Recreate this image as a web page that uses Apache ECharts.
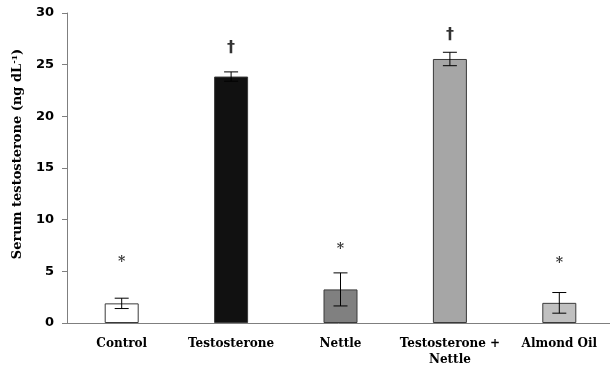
<!DOCTYPE html>
<html><head><meta charset="utf-8">
<script src="https://cdn.jsdelivr.net/npm/echarts@6/dist/echarts.min.js"></script>
<style>html,body{margin:0;padding:0;background:#fff}#c{width:610px;height:366px}</style>
</head><body><div id="c"></div>
<script>
const categories = ['Control', 'Testosterone', 'Nettle', 'Testosterone +\nNettle', 'Almond Oil'];
const means = [1.9, 23.85, 3.25, 25.55, 1.95];
const errors = [0.5, 0.45, 1.6, 0.65, 1.0];
const markers = ['*', '†', '*', '†', '*'];
const markerY = [5.9, 26.6, 7.1, 27.9, 5.8];
const yTicks = [0, 5, 10, 15, 20, 25, 30];
const barColors = ['#ffffff', '#111111', '#808080', '#a6a6a6', '#c0c0c0'];

const chart = echarts.init(document.getElementById('c'));
chart.setOption({
  animation: false,
  grid: {left: 67, right: -4, top: 13, bottom: 43, outerBoundsMode: 'none', containLabel: false},
  xAxis: {
    type: 'category', data: categories,
    axisLine: {lineStyle: {color: '#7f7f7f', width: 1}},
    axisTick: {show: false},
    axisLabel: {interval: 0, color: '#000', fontFamily: 'DejaVu Serif', fontWeight: 'bold', fontSize: 12, margin: 13, lineHeight: 16}
  },
  yAxis: {
    type: 'value', min: yTicks[0], max: yTicks[yTicks.length - 1], interval: 5,
    splitLine: {show: false},
    axisLine: {show: true, lineStyle: {color: '#7f7f7f', width: 1}},
    axisTick: {show: true, length: 5, lineStyle: {color: '#7f7f7f'}},
    axisLabel: {color: '#000', fontFamily: 'DejaVu Sans', fontWeight: 'bold', fontSize: 13, margin: 13},
    name: '{a|Serum testosterone (ng dL}{s|-1}{a|)}',
    nameLocation: 'middle', nameGap: 42,
    nameTextStyle: {
      padding: [0, 0, 0, 28],
      rich: {
        a: {fontFamily: 'DejaVu Serif', fontWeight: 'bold', fontSize: 13, color: '#000'},
        s: {fontFamily: 'DejaVu Serif', fontWeight: 'bold', fontSize: 8, color: '#000', verticalAlign: 'top', padding: [0, 0, 6, 0]}
      }
    }
  },
  series: [
    {
      type: 'bar', barWidth: 34,
      data: means.map((v, i) => ({value: v, itemStyle: {color: barColors[i]}})),
      itemStyle: {borderColor: '#3a3a3a', borderWidth: 1}
    },
    {
      type: 'custom',
      data: means.map((v, i) => [i, v - errors[i], v + errors[i]]),
      renderItem: function (params, api) {
        const x = api.value(0);
        const lo = api.coord([x, api.value(1)]);
        const hi = api.coord([x, api.value(2)]);
        const hw = 7;
        const st = {stroke: '#000', lineWidth: 1};
        return {type: 'group', children: [
          {type: 'line', shape: {x1: lo[0], y1: lo[1], x2: hi[0], y2: hi[1]}, style: st},
          {type: 'line', shape: {x1: lo[0] - hw, y1: lo[1], x2: lo[0] + hw, y2: lo[1]}, style: st},
          {type: 'line', shape: {x1: hi[0] - hw, y1: hi[1], x2: hi[0] + hw, y2: hi[1]}, style: st}
        ]};
      },
      z: 5
    },
    {
      type: 'scatter', symbolSize: 0,
      data: markerY.map((v, i) => [i, v]),
      label: {
        show: true, position: 'inside',
        formatter: p => markers[p.dataIndex] === '†' ? '{d|†}' : '{s|*}',
        rich: {
          d: {color: '#000', fontFamily: 'DejaVu Sans', fontWeight: 'bold', fontSize: 16},
          s: {color: '#000', fontFamily: 'DejaVu Serif', fontWeight: 'bold', fontSize: 14}
        }
      }
    }
  ]
});
</script></body></html>
